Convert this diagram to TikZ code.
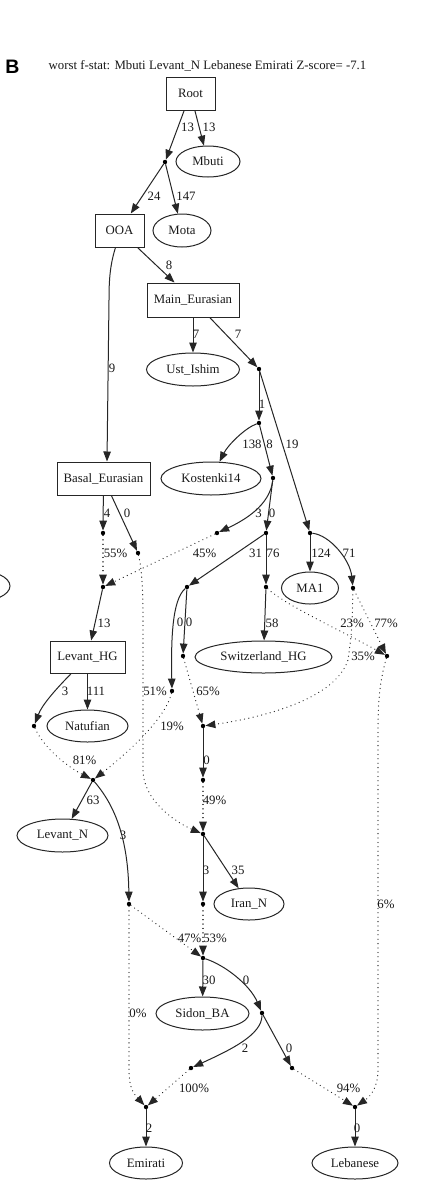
\documentclass[tikz,border=0pt]{standalone}
\usepackage{fontspec}
\setmainfont{Liberation Serif}
\newfontfamily\panelsans{Liberation Sans}
\usetikzlibrary{arrows.meta,shapes.geometric}
\begin{document}
\begin{tikzpicture}[x=1pt,y=-1pt,
  every node/.style={font=\fontsize{12.8}{14}\selectfont, text=black!90},
  box/.style={draw=black!85, line width=1pt, rectangle, inner sep=0pt},
  oval/.style={draw=black!85, line width=1pt, ellipse, inner sep=0pt},
  dot/.style={circle, fill=black, inner sep=0pt, minimum size=4.4pt},
  edge/.style={draw=black!85, line width=1pt, -{Triangle[length=10pt,width=7.5pt]}},
  mix/.style={edge, dash pattern=on 0.1pt off 4.3pt, line cap=round, line width=1.2pt},
  lbl/.style={inner sep=0pt}
]
\useasboundingbox (0,0) rectangle (425,1200);
\fill[white] (0,0) rectangle (425,1200);

% title
\node[font=\panelsans\bfseries\fontsize{19.5}{21}\selectfont, text=black] (B) at (12.5,66.5) {B};
\node (title) at (207.5,66) {worst f-stat: Mbuti Levant\_N Lebanese Emirati Z-score= -7.1};

% partial node at left edge
\begin{scope}
\clip (0,0) rectangle (425,1200);
\node[oval, minimum width=70pt, minimum height=32pt] (cut) at (-25,586) {};
\end{scope}

% named nodes
\node[box, minimum width=49pt, minimum height=33pt] (Root) at (190.5,93.5) {Root};
\node[oval, minimum width=64pt, minimum height=31pt] (Mbuti) at (208,161.5) {Mbuti};
\node[box, minimum width=49pt, minimum height=33pt] (OOA) at (119.5,230.5) {OOA};
\node[oval, minimum width=58pt, minimum height=33pt] (Mota) at (182,230.5) {Mota};
\node[box, minimum width=92pt, minimum height=34pt] (ME) at (193,300) {Main\_Eurasian};
\node[oval, minimum width=93pt, minimum height=33pt] (Ust) at (193,369.5) {Ust\_Ishim};
\node[box, minimum width=93pt, minimum height=33pt] (BE) at (103.5,478.5) {Basal\_Eurasian};
\node[oval, minimum width=100pt, minimum height=33pt] (Kost) at (211,478.5) {Kostenki14};
\node[oval, minimum width=57pt, minimum height=32pt] (MA1) at (310,588) {MA1};
\node[box, minimum width=75pt, minimum height=32pt] (LHG) at (87.5,657) {Levant\_HG};
\node[oval, minimum width=137pt, minimum height=32pt] (Swiss) at (263.5,657) {Switzerland\_HG};
\node[oval, minimum width=81pt, minimum height=32pt] (Natufian) at (87.5,726) {Natufian};
\node[oval, minimum width=91pt, minimum height=33pt] (LevN) at (62.5,835.5) {Levant\_N};
\node[oval, minimum width=70pt, minimum height=32pt] (IranN) at (249,904) {Iran\_N};
\node[oval, minimum width=93pt, minimum height=33pt] (Sidon) at (202.5,1013.5) {Sidon\_BA};
\node[oval, minimum width=73pt, minimum height=32pt] (Emirati) at (146,1163) {Emirati};
\node[oval, minimum width=86pt, minimum height=32pt] (Lebanese) at (355,1163) {Lebanese};

% dots
\node[dot] (n1) at (165,162) {};
\node[dot] (n2) at (259,369) {};
\node[dot] (n3) at (259,423) {};
\node[dot] (n4) at (273,478) {};
\node[dot] (n5) at (103,533) {};
\node[dot] (n6) at (138,553) {};
\node[dot] (n7) at (217,533) {};
\node[dot] (n8) at (266,533) {};
\node[dot] (nMA) at (310,533) {};
\node[dot] (n9) at (103,587) {};
\node[dot] (n10) at (187,587) {};
\node[dot] (n11) at (266,587) {};
\node[dot] (n12) at (353,588) {};
\node[dot] (n13) at (172,691) {};
\node[dot] (n14) at (183,656) {};
\node[dot] (n15) at (387,656) {};
\node[dot] (n16) at (34,726) {};
\node[dot] (n17) at (203,726) {};
\node[dot] (n18) at (93,780) {};
\node[dot] (n19) at (203,780) {};
\node[dot] (n20) at (203,834) {};
\node[dot] (n21) at (129,904) {};
\node[dot] (n22) at (203,904) {};
\node[dot] (n23) at (203,958) {};
\node[dot] (n24) at (262,1013) {};
\node[dot] (n25) at (191,1068) {};
\node[dot] (n26) at (292,1068) {};
\node[dot] (n27) at (146,1107) {};
\node[dot] (n28) at (355,1107) {};

% solid edges
\draw[edge] (Root) -- (n1);
\draw[edge] (Root) -- (Mbuti);
\draw[edge] (n1) -- (OOA);
\draw[edge] (n1) -- (Mota);
\draw[edge] (OOA) -- (ME);
\draw[edge] (OOA.south) ++(-4,0) coordinate (oo) (oo) .. controls (110,265) and (109,280) .. (109,300) -- (BE.north -| 107,0);
\draw[edge] (ME) -- (Ust);
\draw[edge] (ME) -- (n2);
\draw[edge] (n2) -- (n3);
\draw[edge] (n2) -- (nMA);
\draw[edge] (n3) .. controls (245,428) and (228,445) .. (Kost);
\draw[edge] (n3) -- (n4);
\draw[edge] (BE) -- (n5);
\draw[edge] (BE) -- (n6);
\draw[edge] (n4) .. controls (270,505) and (245,520) .. (n7);
\draw[edge] (n4) -- (n8);
\draw[edge] (n8) -- (n10);
\draw[edge] (n8) -- (n11);
\draw[edge] (nMA) -- (MA1);
\draw[edge] (nMA) .. controls (330,535) and (350,560) .. (n12);
\draw[edge] (n9) -- (LHG);
\draw[edge] (n10) .. controls (172,600) and (171,640) .. (n13);
\draw[edge] (n10) -- (n14);
\draw[edge] (n11) -- (Swiss);
\draw[edge] (LHG) .. controls (55,690) and (42,705) .. (n16);
\draw[edge] (LHG) -- (Natufian);
\draw[edge] (n17) -- (n19);
\draw[edge] (n18) -- (LevN);
\draw[edge] (n18) .. controls (110,800) and (128,830) .. (n21);
\draw[edge] (n20) -- (n22);
\draw[edge] (n20) -- (IranN);
\draw[edge] (n23) -- (Sidon);
\draw[edge] (n23) .. controls (225,965) and (250,985) .. (n24);
\draw[edge] (n24) .. controls (262,1035) and (230,1050) .. (n25);
\draw[edge] (n24) -- (n26);
\draw[edge] (n27) -- (Emirati);
\draw[edge] (n28) -- (Lebanese);

% admixture (dotted) edges
\draw[mix] (n5) -- (n9);
\draw[mix] (n7) -- (n9);
\draw[mix] (n6) .. controls (142,570) and (143,590) .. (143,620) -- (143,770) .. controls (143,800) and (175,822) .. (n20);
\draw[mix] (n11) .. controls (285,605) and (340,630) .. (n15);
\draw[mix] (n12) -- (n15);
\draw[mix] (n12) .. controls (352,630) .. (348,660) .. controls (335,700) and (260,718) .. (n17);
\draw[mix] (n14) -- (n17);
\draw[mix] (n13) .. controls (165,720) and (125,755) .. (n18);
\draw[mix] (n16) .. controls (45,750) and (70,768) .. (n18);
\draw[mix] (n19) -- (n20);
\draw[mix] (n21) -- (n23);
\draw[mix] (n22) -- (n23);
\draw[mix] (n21) -- (129,1070) .. controls (129,1090) and (135,1095) .. (n27);
\draw[mix] (n25) -- (n27);
\draw[mix] (n26) -- (n28);
\draw[mix] (n15) .. controls (380,680) and (378,700) .. (378,730) -- (378,1070) .. controls (378,1090) and (368,1098) .. (n28);

% edge labels
\node[lbl] (l1) at (187.5,127) {13};
\node[lbl] (l2) at (209,127) {13};
\node[lbl] (l3) at (154,196) {24};
\node[lbl] (l4) at (186,196) {147};
\node[lbl] (l5) at (169,265) {8};
\node[lbl] (l6) at (196,334) {7};
\node[lbl] (l7) at (238,334) {7};
\node[lbl] (l8) at (112,368) {9};
\node[lbl] (l9) at (262,404) {1};
\node[lbl] (l10) at (252,444) {138};
\node[lbl] (l11) at (269.5,444) {8};
\node[lbl] (l12) at (292,444) {19};
\node[lbl] (l13) at (107,513) {4};
\node[lbl] (l14) at (127,513) {0};
\node[lbl] (l15) at (258.5,513) {3};
\node[lbl] (l16) at (272,513) {0};
\node[lbl] (l17) at (115.5,553) {55\%};
\node[lbl] (l18) at (204.5,553) {45\%};
\node[lbl] (l19) at (255.5,553) {31};
\node[lbl] (l20) at (273,553) {76};
\node[lbl] (l21) at (321,553) {124};
\node[lbl] (l22) at (349,553) {71};
\node[lbl] (l23) at (104,623) {13};
\node[lbl] (l24) at (180,622) {0};
\node[lbl] (l25) at (189,622) {0};
\node[lbl] (l26) at (272,623) {58};
\node[lbl] (l27) at (352,623) {23\%};
\node[lbl] (l28) at (386,623) {77\%};
\node[lbl] (l29) at (363,656) {35\%};
\node[lbl] (l30) at (65,691) {3};
\node[lbl] (l31) at (96,691) {111};
\node[lbl] (l32) at (155,691) {51\%};
\node[lbl] (l33) at (208,691) {65\%};
\node[lbl] (l34) at (172,726) {19\%};
\node[lbl] (l35) at (84.5,760) {81\%};
\node[lbl] (l36) at (206.5,760) {0};
\node[lbl] (l37) at (93,800) {63};
\node[lbl] (l38) at (214.5,800) {49\%};
\node[lbl] (l39) at (123,835) {3};
\node[lbl] (l40) at (206,870) {3};
\node[lbl] (l41) at (238,870) {35};
\node[lbl] (l42) at (386,904) {6\%};
\node[lbl] (l43) at (189.5,938) {47\%};
\node[lbl] (l44) at (215,938) {53\%};
\node[lbl] (l45) at (209,980) {30};
\node[lbl] (l46) at (246,980) {0};
\node[lbl] (l47) at (138,1013) {0\%};
\node[lbl] (l48) at (245,1048) {2};
\node[lbl] (l49) at (289,1048) {0};
\node[lbl] (l50) at (194,1088) {100\%};
\node[lbl] (l51) at (348.5,1088) {94\%};
\node[lbl] (l52) at (149,1128) {2};
\node[lbl] (l53) at (357,1128) {0};
\end{tikzpicture}
\end{document}
